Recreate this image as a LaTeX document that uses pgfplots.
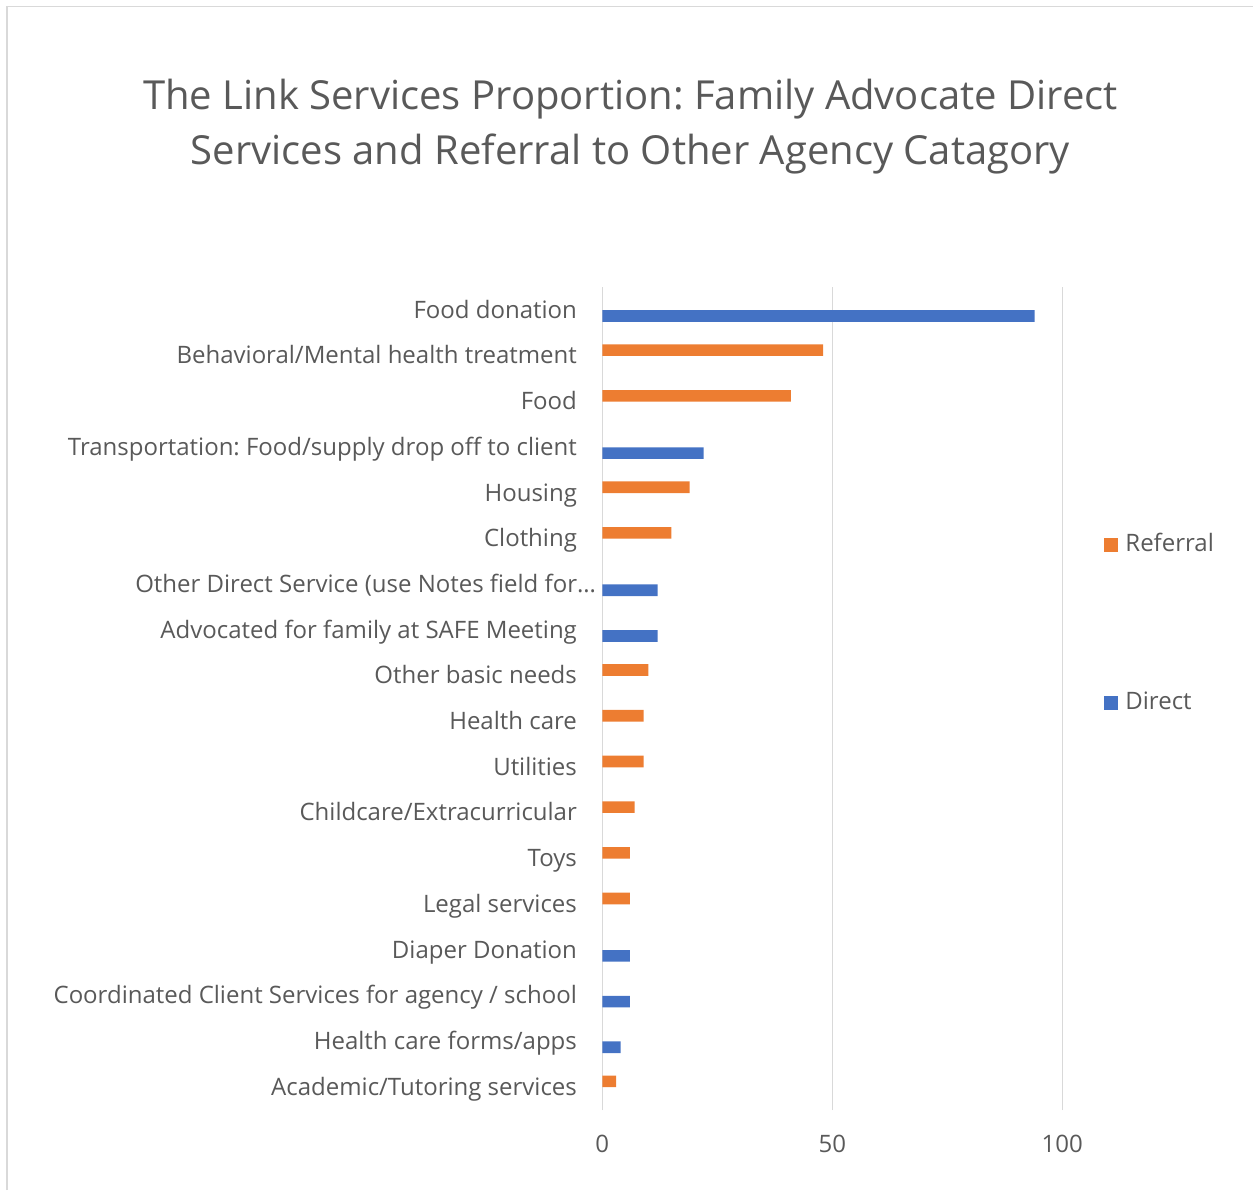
\documentclass[border=0pt]{standalone}
\usepackage{fontspec}
\setmainfont{Open Sans}
\usepackage{pgfplots}
\pgfplotsset{compat=1.18}
\definecolor{txt}{HTML}{595959}
\definecolor{gridc}{HTML}{D9D9D9}
\definecolor{refc}{HTML}{ED7D31}
\definecolor{dirc}{HTML}{4472C4}
\begin{document}
\frenchspacing
\begin{tikzpicture}
\useasboundingbox (0,0) rectangle (626.5pt,595pt);
% chart frame (only left and top edges are inside the picture)
\draw[gridc, line width=0.7pt] (3.4pt,0pt) -- (3.4pt,591.6pt) -- (626.5pt,591.6pt);
% title
\node[anchor=base, text=txt, inner sep=0pt, font=\fontsize{20}{24}\selectfont]
  at (315.25pt,540pt) {The Link Services Proportion: Family Advocate Direct};
\node[anchor=base, text=txt, inner sep=0pt, font=\fontsize{20}{24}\selectfont]
  at (315.25pt,512.5pt) {Services and Referral to Other Agency Catagory};
\begin{axis}[
    at={(301.15pt,40pt)}, anchor=south west,
    scale only axis, width=230pt, height=411.3pt,
    xbar, bar width=0.254,
    xmin=0, xmax=100, ymin=-0.5, ymax=17.5,
    axis line style={draw=none},
    major tick length=0pt,
    xtick={0,50,100},
    xmajorgrids, grid style={gridc, line width=0.75pt},
    ytick={0,...,17},
    yticklabels={{Academic/Tutoring services},{Health care forms/apps},
      {Coordinated Client Services for agency / school},{Diaper Donation},
      {Legal services},{Toys},{Childcare/Extracurricular},{Utilities},
      {Health care},{Other basic needs},{Advocated for family at SAFE Meeting},
      {Other Direct Service (use Notes field for…\hspace*{-9.5pt}},{Clothing},{Housing},
      {Transportation: Food/supply drop off to client},{Food},
      {Behavioral/Mental health treatment},{Food donation}},
    tick label style={text=txt, font=\fontsize{12}{14}\selectfont},
    /pgf/number format/assume math mode=true,
    xticklabel style={anchor=base, inner sep=0pt, yshift=-21pt},
    yticklabel style={anchor=base east, inner sep=0pt, xshift=-12.5pt, yshift=-4pt},
    legend style={at={(1.0907,0.7015)}, anchor=north west, draw=none, fill=none,
      inner sep=0pt, row sep=67pt, column sep=3.5pt,
      font=\fontsize{12}{14}\selectfont, text=txt,
      nodes={inner sep=0pt, text height=9pt, text depth=3pt}},
    legend cell align=left,
    legend image code/.code={\fill[#1,draw=none] (0pt,-3.5pt) rectangle (7pt,3.5pt);},
]
\addplot[fill=refc, draw=none, bar shift=0.127] coordinates {
  (3,0) (6,4) (6,5) (7,6) (9,7) (9,8) (10,9) (15,12) (19,13) (41,15) (48,16)};
\addplot[fill=dirc, draw=none, bar shift=-0.127] coordinates {
  (4,1) (6,2) (6,3) (12,10) (12,11) (22,14) (94,17)};
\legend{Referral, Direct}
\end{axis}
\end{tikzpicture}
\end{document}
